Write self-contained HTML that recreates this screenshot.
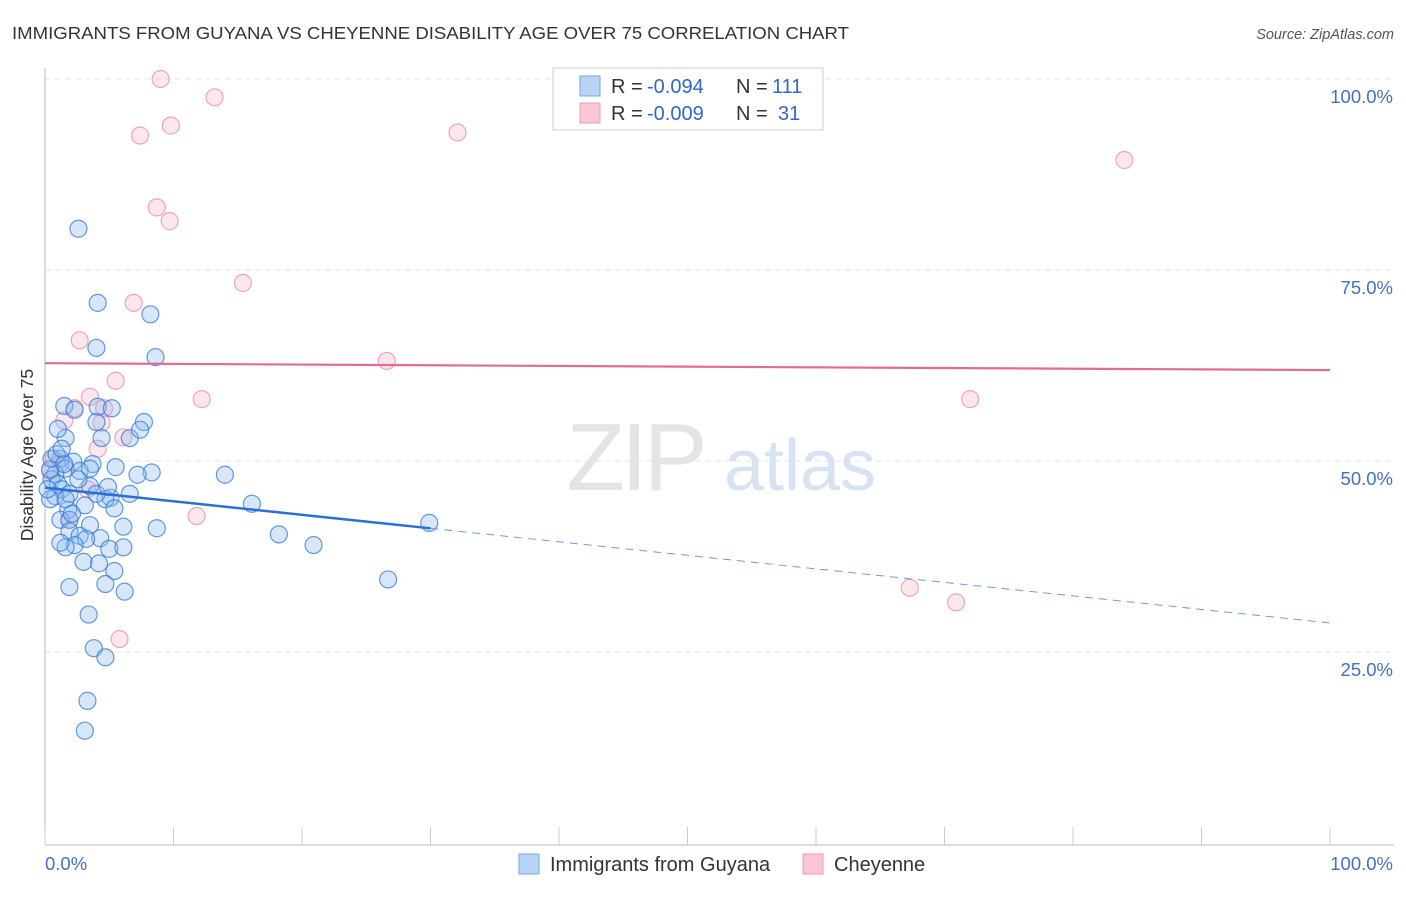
<!DOCTYPE html>
<html><head><meta charset="utf-8">
<style>
body{margin:0;background:#fff;font-family:"Liberation Sans",sans-serif;}
svg text{font-family:"Liberation Sans",sans-serif;}
</style></head>
<body>
<svg id="chart" width="1406" height="892" xmlns="http://www.w3.org/2000/svg">
<text x="12" y="39" font-size="17.5" fill="#333" textLength="837" lengthAdjust="spacingAndGlyphs">IMMIGRANTS FROM GUYANA VS CHEYENNE DISABILITY AGE OVER 75 CORRELATION CHART</text>
<text x="1394" y="39" font-size="14.5" fill="#555" text-anchor="end" font-style="italic">Source: ZipAtlas.com</text>
<g id="grid"></g>
<g>
<text x="635" y="490" font-size="96" fill="#e4e4e4" font-family="Liberation Serif" text-anchor="middle" letter-spacing="-4">ZIP</text>
<text x="800" y="490" font-size="72" fill="#d6e3f3" text-anchor="middle">atlas</text>
</g>
<g id="axes"></g>
<g id="pts"></g>
<g id="trends"></g>
<text transform="translate(33,455) rotate(-90)" font-size="17.5" fill="#333" text-anchor="middle">Disability Age Over 75</text>
<g>
<rect x="553" y="68" width="270" height="62" fill="#fff" stroke="#ccc"/>
<rect x="580" y="76" width="20" height="20" fill="#b8d3f5" stroke="#7aa6e0"/>
<rect x="580" y="103" width="20" height="20" fill="#f9c6d5" stroke="#ee9ab5"/>
<text x="611" y="93" font-size="20" fill="#333">R =</text>
<text x="647" y="93" font-size="20" fill="#3366cc">-0.094</text>
<text x="736" y="93" font-size="20" fill="#333">N =</text>
<text x="772" y="93" font-size="20" fill="#3366cc">111</text>
<text x="611" y="120" font-size="20" fill="#333">R =</text>
<text x="647" y="120" font-size="20" fill="#3366cc">-0.009</text>
<text x="736" y="120" font-size="20" fill="#333">N =</text>
<text x="778" y="120" font-size="20" fill="#3366cc">31</text>
</g>
<g>
<rect x="519" y="854" width="20" height="20" fill="#b8d3f5" stroke="#7aa6e0"/>
<text x="550" y="871" font-size="20" fill="#333">Immigrants from Guyana</text>
<rect x="803" y="854" width="20" height="20" fill="#f9c6d5" stroke="#ee9ab5"/>
<text x="834" y="871" font-size="20" fill="#333">Cheyenne</text>
</g>
</svg>
<script>
const blueX=[2.6,4.1,8.2,4.0,8.6,1.5,4.1,5.2,2.3,4.0,7.7,1.6,4.4,6.6,7.4,1.0,8.3,14.0,5.5,3.7,2.2,1.2,1.6,2.7,0.8,0.5,1.0,1.3,1.9,0.8,0.4,3.5,5.1,6.6,4.7,16.1,3.1,5.4,1.8,1.2,1.9,3.5,6.1,8.7,1.9,2.7,4.3,3.2,2.3,1.6,5.0,6.1,18.2,20.9,3.0,4.2,5.4,4.7,1.9,6.2,26.7,29.9,3.4,3.8,4.7,3.3,3.1,0.2,0.4,0.5,0.9,1.5,2.6,1.6,2.1,1.3,3.5,4.0,4.9,1.2,7.2];
const blueY=[80.4,70.7,69.2,64.8,63.6,57.2,57.1,56.9,56.7,55.1,55.1,53.0,53.0,53.0,54.1,54.2,48.5,48.2,49.2,49.6,49.9,50.3,49.0,48.7,48.3,47.6,47.0,46.3,45.7,45.4,45.0,46.7,45.2,45.7,45.0,44.4,44.2,43.8,43.6,42.3,42.3,41.6,41.4,41.2,40.8,40.2,39.9,39.8,39.0,38.7,38.5,38.7,40.4,39.0,36.8,36.6,35.6,33.9,33.5,32.9,34.5,41.9,29.9,25.5,24.3,18.6,14.7,46.3,48.9,50.3,50.9,49.6,47.6,45.0,43.1,51.6,49.0,45.7,46.6,39.3,48.2];
const pinkX=[9.0,13.2,7.4,9.8,32.1,84.0,8.7,9.7,15.4,6.9,2.7,26.6,5.5,12.2,3.5,72.0,2.3,4.6,1.5,4.4,6.1,4.1,0.7,1.2,0.4,11.8,1.9,67.3,70.9,5.8,3.3];
const pinkY=[100.0,97.6,92.6,93.9,93.0,89.4,83.2,81.4,73.3,70.7,65.8,63.1,60.5,58.1,58.4,58.1,56.9,56.9,55.3,55.0,53.1,51.6,50.3,49.7,48.7,42.8,42.3,33.4,31.5,26.7,46.3];
const yTicks=[25,50,75,100];
const yTickLabels=["25.0%","50.0%","75.0%","100.0%"];
const xTicks=[0,10,20,30,40,50,60,70,80,90,100];
const blueTrend=[46.5,28.8], blueSolidEnd=30;
const pinkTrend=[62.8,61.9];
const X=v=>45+v*12.85, Y=v=>843-v*7.64;
const NS="http://www.w3.org/2000/svg";
function mk(tag,attrs,parent){const e=document.createElementNS(NS,tag);for(const k in attrs)e.setAttribute(k,attrs[k]);parent.appendChild(e);return e;}
const grid=document.getElementById('grid'),axes=document.getElementById('axes'),pts=document.getElementById('pts'),tr=document.getElementById('trends');
yTicks.forEach((t,i)=>{
 const l=mk('line',{x1:45,x2:1394,y1:Y(t),y2:Y(t),stroke:'#e6e6e6','stroke-dasharray':'6,4'},grid);
 
 
 const tx=mk('text',{x:1393,y:Y(t)+24,'font-size':18.5,fill:'#3f72c7','text-anchor':'end'},axes);
 tx.textContent=yTickLabels[i];
 
 
});
const ax=mk('line',{x1:45,x2:1394,y1:845,y2:845,stroke:'#bbb'},axes);


const ay=mk('line',{x1:45,x2:45,y1:68,y2:845,stroke:'#bbb'},axes);


xTicks.forEach(t=>{const l=mk('line',{x1:X(t),x2:X(t),y1:827,y2:845,stroke:'#ccc'},axes);
 
 });
const x0=mk('text',{x:45,y:870,'font-size':18.5,fill:'#3f72c7'},axes);x0.textContent='0.0%';


const x1=mk('text',{x:1393,y:870,'font-size':18.5,fill:'#3f72c7','text-anchor':'end'},axes);x1.textContent='100.0%';


pinkX.forEach((v,i)=>{const c=mk('circle',{cx:X(v),cy:Y(pinkY[i]),r:8.5,fill:'rgba(246,175,198,0.3)',stroke:'rgba(232,130,165,0.7)','stroke-width':1.2},pts);
 
 });
blueX.forEach((v,i)=>{const c=mk('circle',{cx:X(v),cy:Y(blueY[i]),r:8.5,fill:'rgba(140,185,238,0.35)',stroke:'rgba(50,120,215,0.75)','stroke-width':1.2},pts);
 
 });
const bl=v=>blueTrend[0]+(blueTrend[1]-blueTrend[0])*v/100;
const b1=mk('line',{x1:X(0),y1:Y(bl(0)),x2:X(blueSolidEnd),y2:Y(bl(blueSolidEnd)),stroke:'#2a6fd6','stroke-width':2.5},tr);


const b2=mk('line',{x1:X(blueSolidEnd),y1:Y(bl(blueSolidEnd)),x2:X(100),y2:Y(bl(100)),stroke:'#6d9be0','stroke-width':1,'stroke-dasharray':'8,6'},tr);


const p1=mk('line',{x1:X(0),y1:Y(pinkTrend[0]),x2:X(100),y2:Y(pinkTrend[1]),stroke:'#e36a94','stroke-width':2.2},tr);


</script>
</body></html>
